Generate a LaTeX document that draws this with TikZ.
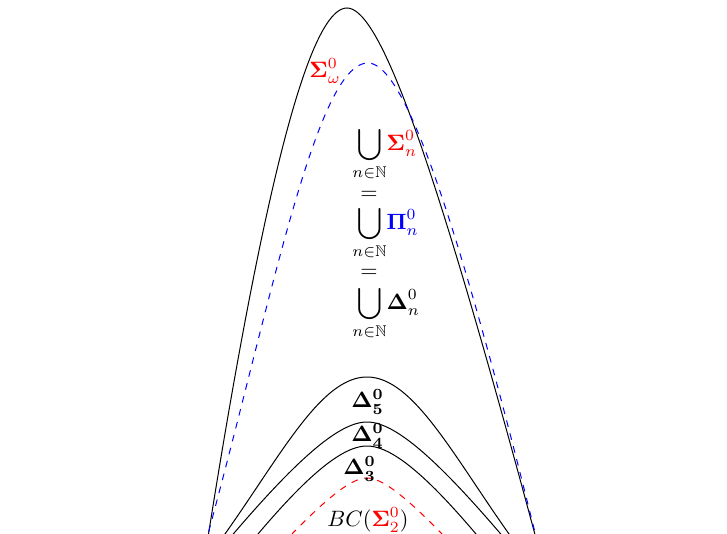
\documentclass[tikz,border=0pt]{standalone}
\usepackage{amsmath,amssymb}
\begin{document}
\begin{tikzpicture}[x=0.45pt,y=-0.45pt,
  curve/.style={line width=0.45pt},
  sigmacol/.style={red},
  picol/.style={blue},
  lbl/.style={inner sep=0pt, anchor=base west}]
\useasboundingbox (0,0) rectangle (727,534);
\clip (0,0) rectangle (727,534);
% outer black
\draw[curve] plot[domain=150:0,samples=60,smooth] ({347-\x},{8+\x*(\x/(24+0.09*\x))})
  -- plot[domain=0:200,samples=70,smooth] ({347+\x},{8+\x*(\x/(22+0.24*\x))});
% blue dashed
\draw[curve,picol,dashed] plot[domain=170:0,samples=60,smooth] ({368-\x},{63+\x*(\x/(34+(0.0282*\x)*(0.0282*\x)))})
  -- plot[domain=0:175,samples=60,smooth] ({368+\x},{63+\x*(\x/(26+0.2*\x))});
% Delta_5
\draw[curve] plot[domain=-155:155,samples=90,smooth] ({367+\x},{377+\x*(\x/(82+(0.048*\x)*(0.048*\x)))});
% Delta_4
\draw[curve] plot[domain=-145:145,samples=90,smooth] ({367+\x},{422+\x*(\x/(63+0.723*abs(\x)))});
% Delta_3
\draw[curve] plot[domain=-120:120,samples=80,smooth] ({367+\x},{446+\x*(\x/(62.3+0.667*abs(\x)))});
% BC(Sigma_2) red dashed
\draw[curve,sigmacol,dashed] plot[domain=-85:85,samples=60,smooth] ({367+\x},{478+\x*(\x/(37.5+0.84*abs(\x)))});
% labels
\node[lbl,sigmacol] (sw) at (309,78) {$\boldsymbol{\Sigma}^0_\omega$};
\node[inner sep=0pt,anchor=west] (u1) at (352,154) {$\displaystyle\bigcup_{n\in\mathbb{N}}\!\textcolor{red}{\boldsymbol{\Sigma}^0_n}$};
\node[inner sep=0pt] (e1) at (369,195) {$=$};
\node[inner sep=0pt,anchor=west] (u2) at (352,233) {$\displaystyle\bigcup_{n\in\mathbb{N}}\!\textcolor{blue}{\boldsymbol{\Pi}^0_n}$};
\node[inner sep=0pt] (e2) at (369,273) {$=$};
\node[inner sep=0pt,anchor=west] (u3) at (352,313) {$\displaystyle\bigcup_{n\in\mathbb{N}}\!\boldsymbol{\Delta}^0_n$};
\node[lbl] (d5) at (351,408) {$\boldsymbol{\Delta^0_5}$};
\node[lbl] (d4) at (351,442) {$\boldsymbol{\Delta^0_4}$};
\node[lbl] (d3) at (343,475) {$\boldsymbol{\Delta^0_3}$};
\node[lbl] (bc) at (327,527) {$BC(\textcolor{red}{\boldsymbol{\Sigma}^0_2})$};
\end{tikzpicture}
\end{document}
